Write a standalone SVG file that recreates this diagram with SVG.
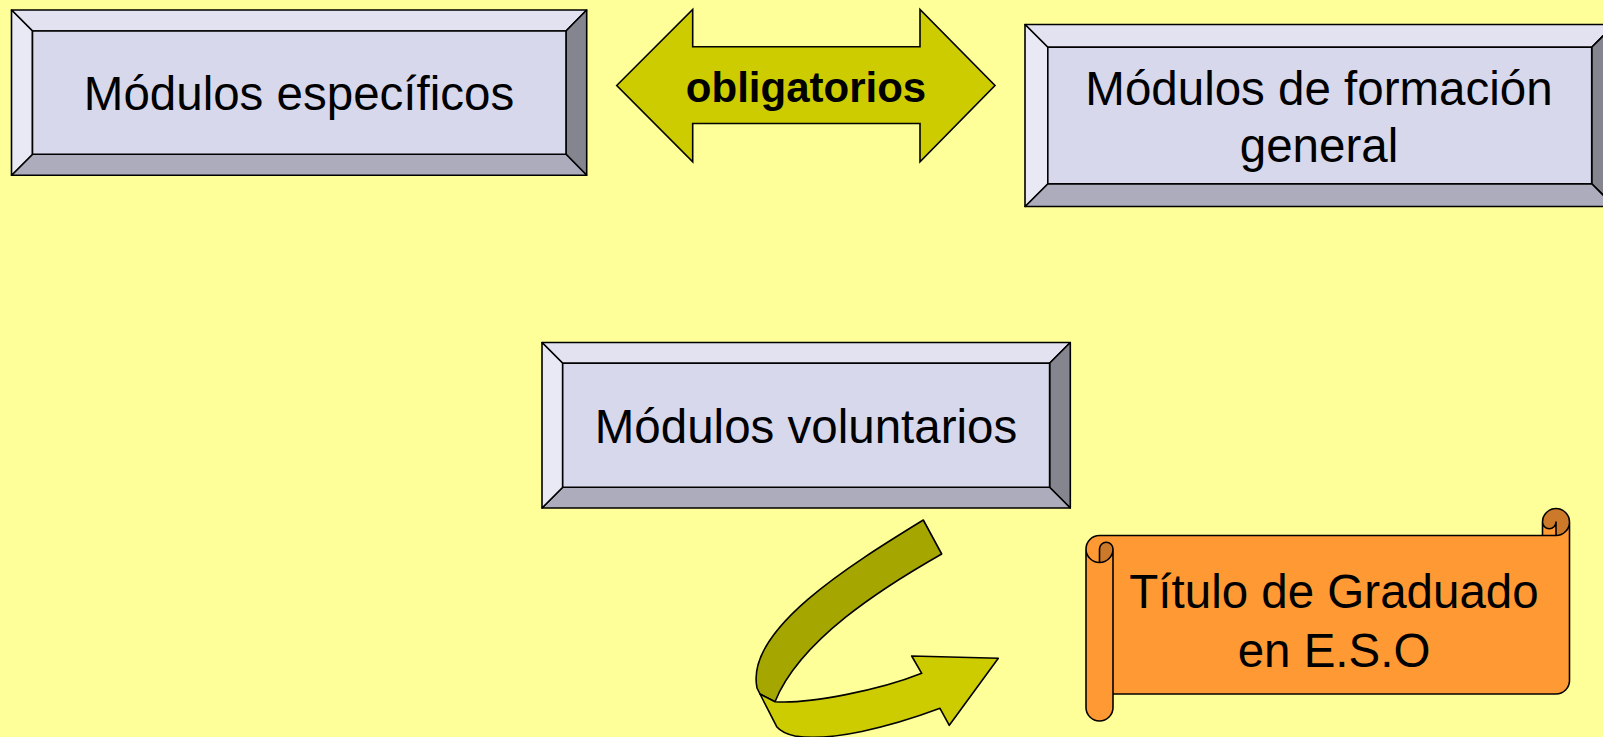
<svg xmlns="http://www.w3.org/2000/svg" width="1603" height="737" viewBox="0 0 1603 737">
<style>
.t{font-family:"Liberation Sans",Arial,sans-serif;font-size:47.5px;fill:#000;text-anchor:middle}
.b{font-weight:bold;font-size:42px}
.ln{stroke:#000;stroke-width:1.6;stroke-linejoin:round}
.top{fill:#E2E2F1}.lft{fill:#E9E9F6}.rgt{fill:#85858F}.bot{fill:#ACACBD}.in{fill:#D7D8EC}
.ar{fill:#CCCC00;stroke:#000;stroke-width:1.6;stroke-linejoin:miter}
</style>
<rect width="1603" height="737" fill="#FFFF99"/>
<g id="box-especificos" class="ln">
<polygon class="top" points="11.5,10 586.7,10 566,31 32.5,31"/>
<polygon class="rgt" points="586.7,10 586.7,175.3 566,154.3 566,31"/>
<polygon class="bot" points="11.5,175.3 586.7,175.3 566,154.3 32.5,154.3"/>
<polygon class="lft" points="11.5,10 11.5,175.3 32.5,154.3 32.5,31"/>
<rect class="in" x="32.5" y="31" width="533.5" height="123.3"/>
<text class="t" x="299" y="110" stroke="none">Módulos específicos</text>
</g>
<g id="box-formacion" class="ln">
<polygon class="top" points="1025,24.5 1614.5,24.5 1591.7,47.3 1047.8,47.3"/>
<polygon class="rgt" points="1614.5,24.5 1614.5,206.5 1591.7,183.7 1591.7,47.3"/>
<polygon class="bot" points="1025,206.5 1614.5,206.5 1591.7,183.7 1047.8,183.7"/>
<polygon class="lft" points="1025,24.5 1025,206.5 1047.8,183.7 1047.8,47.3"/>
<rect class="in" x="1047.8" y="47.3" width="543.9" height="136.4"/>
<text class="t" x="1319" y="105" stroke="none">Módulos de formación</text>
<text class="t" x="1319" y="162" stroke="none">general</text>
</g>
<g id="box-voluntarios" class="ln">
<polygon class="top" points="542,342.5 1070.3,342.5 1049.6,363.2 562.7,363.2"/>
<polygon class="rgt" points="1070.3,342.5 1070.3,508 1049.6,487.3 1049.6,363.2"/>
<polygon class="bot" points="542,508 1070.3,508 1049.6,487.3 562.7,487.3"/>
<polygon class="lft" points="542,342.5 542,508 562.7,487.3 562.7,363.2"/>
<rect class="in" x="562.7" y="363.2" width="486.9" height="124.1"/>
<text class="t" x="806" y="443" stroke="none">Módulos voluntarios</text>
</g>
<g id="titulo">
<path fill="#FF9933" d="M1569.5,522 A13.5,13.5 0 0 1 1556,535.5 L1556,522 A6.75,6.75 0 0 1 1542.5,522 L1542.5,535.5 L1099.5,535.5 A13.5,13.5 0 0 0 1086,549 L1086,707.5 A13.5,13.5 0 0 0 1113,707.5 L1113,694 L1556,694 A13.5,13.5 0 0 0 1569.5,680.5 Z M1099.5,562.5 A13.5,13.5 0 0 0 1113,549 A6.75,6.75 0 0 0 1099.5,549 Z"/>
<path fill="#CC7A29" d="M1099.5,562.5 A13.5,13.5 0 0 0 1113,549 A6.75,6.75 0 0 0 1099.5,549 Z M1556,535.5 A13.5,13.5 0 1 0 1542.5,522 A6.75,6.75 0 0 0 1556,522 Z"/>
<path fill="none" stroke="#000" stroke-width="1.6" stroke-linejoin="round" d="M1086,549 A13.5,13.5 0 0 1 1099.5,535.5 L1542.5,535.5 L1542.5,522 A13.5,13.5 0 0 1 1569.5,522 L1569.5,680.5 A13.5,13.5 0 0 1 1556,694 L1113,694 L1113,707.5 A13.5,13.5 0 0 1 1086,707.5 Z M1542.5,535.5 L1556,535.5 A13.5,13.5 0 0 0 1569.5,522 M1556,535.5 L1556,522 A6.75,6.75 0 0 1 1542.5,522 M1099.5,562.5 L1099.5,549 A6.75,6.75 0 0 1 1113,549 A13.5,13.5 0 0 1 1086,549 M1113,549 L1113,694"/>
<text class="t" x="1334" y="608">Título de Graduado</text>
<text class="t" x="1334" y="667">en E.S.O</text>
</g>
<g id="connectors">
<g id="arrow-obligatorios">
<polygon class="ar" points="616.7,85.5 692.7,9.5 692.7,46.7 920,46.7 920,9.5 995,85.5 920,161.7 920,123.5 692.7,123.5 692.7,161.7"/>
<text class="t b" x="806" y="102">obligatorios</text>
</g>
<g id="arrow-curved" stroke="#000" stroke-width="1.6" stroke-linejoin="round">
<path fill="#A6A600" d="M923.3,520 L941.7,554 C882,588 800,640 775,701.7 L760,694 L757,688 C745,630 850,565 923.3,520 Z"/>
<path fill="#CCCC00" d="M760,694 L775,701.7 C810,704 880,690 921.7,673.3 L911.7,656 L998.3,658.3 L949.3,725.3 L940,708.3 C890,727 830,742 795,736 Q782,733 776.7,726.7 Z"/>
</g>
</g>
</svg>
